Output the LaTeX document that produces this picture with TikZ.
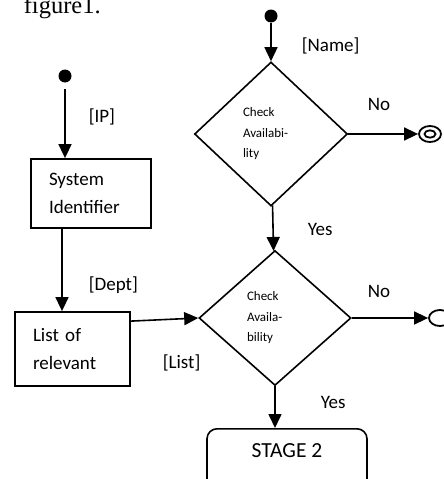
\documentclass[tikz,border=0pt]{standalone}
\usepackage{fontspec}
\setmainfont{Carlito}
\newfontfamily\serifcap{Liberation Serif}
\usetikzlibrary{shapes.geometric,arrows.meta}

\begin{document}
\begin{tikzpicture}[x=1pt,y=-1pt,line width=1.6pt,
  flow/.style={-{Triangle[length=14pt,width=13pt]}},
  startdot/.style={circle,fill,inner sep=0pt,minimum size=13pt},
  endring/.style={ellipse,draw,line width=1.8pt,inner sep=0pt,minimum width=22pt,minimum height=16pt},
  taskbox/.style={rectangle,draw,line width=1.8pt,align=left,inner xsep=18pt,font=\fontsize{19}{28}\selectfont},
  check/.style={diamond,draw,inner sep=0pt,align=left,text width=56pt,font=\fontsize{13}{20.5}\selectfont},
  guard/.style={anchor=base west,inner sep=0pt,font=\fontsize{19}{23}\selectfont}]
\useasboundingbox (0,0) rectangle (444,479);

% caption left over from the page
\node[anchor=base west,inner sep=0pt,font=\serifcap\fontsize{24.5}{28}\selectfont] (caption) at (23,13) {figure1.};

% Name check
\node[startdot] (namestart) at (271,16) {};
\node[check,minimum width=153pt,minimum height=144pt] (checkname) at (271,134) {Check\\Availabi-\\lity};
\node[endring] (nameend) at (430,134) {};
\draw[line width=1.8pt] (nameend.center) ellipse (5.5pt and 3.7pt);

% List check
\node[check,minimum width=152pt,minimum height=135pt] (checklist) at (275,318) {Check\\Availa-\\bility};
\node[endring] (listend) at (440,318) {};

% IP side
\node[startdot] (ipstart) at (65,76) {};
\node[taskbox,text width=84pt,minimum height=69pt] (sysid) at (91,193.5) {System\\Identifier};
\node[taskbox,text width=79pt,minimum height=74pt] (relevant) at (72.5,349) {List of\\relevant};

% Stage 2
\node[draw,rounded corners=10pt,minimum width=160pt,minimum height=80pt,anchor=north] (stage) at (287,428) {};
\node[anchor=base,font=\fontsize{21.5}{26}\selectfont] (stagetext) at ([yshift=-29pt]stage.north) {STAGE 2};

% Flows
\draw[flow] (namestart) -- (checkname);
\draw[flow] (checkname) -- (nameend);
\draw[flow] (checkname) -- (checklist);
\draw[flow] (checklist) -- (listend);
\draw[flow] (checklist.south) -- (checklist.south |- stage.north);
\draw[flow,shorten <=6pt] (ipstart) -- (ipstart |- sysid.north);
\draw[flow] ([xshift=-29pt]sysid.south) -- ([xshift=-10.5pt]relevant.north);
\draw[flow] ([yshift=-10pt]relevant.north east) -- (checklist.west);

% Guards
\node[guard] (namelbl) at (301,51) {[Name]};
\node[guard] (iplbl) at (88,122) {[IP]};
\node[guard] (deptlbl) at (88,290) {[Dept]};
\node[guard] (listlbl) at (162,368) {[List]};
\node[guard] (noname) at (367,110) {No};
\node[guard] (nolist) at (367,297) {No};
\node[guard] (yesname) at (307,235) {Yes};
\node[guard] (yeslist) at (320,408) {Yes};
\end{tikzpicture}
\end{document}
